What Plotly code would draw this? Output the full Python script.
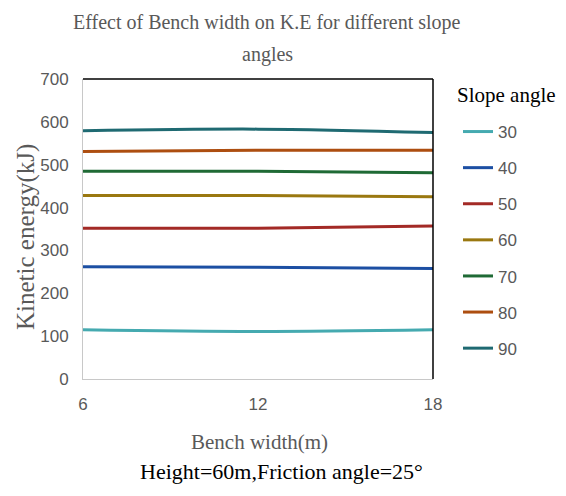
import plotly.graph_objects as go

bench_width = [6, 12, 18]
slope_angles = ["30", "40", "50", "60", "70", "80", "90"]
ke_30 = [115, 111, 115]
ke_40 = [262, 261, 258]
ke_50 = [352, 352, 357]
ke_60 = [428, 428, 425]
ke_70 = [485, 485, 481]
ke_80 = [531, 534, 534]
ke_90 = [579, 583, 575]
series = [ke_30, ke_40, ke_50, ke_60, ke_70, ke_80, ke_90]
colors = ["#45aab0", "#1c4fa3", "#a32a26", "#9a7810", "#1f6a35", "#ad4e10", "#1f6a72"]

y_ticks = [0, 100, 200, 300, 400, 500, 600, 700]
x_ticks = [6, 12, 18]

serif = "Liberation Serif, Times New Roman, serif"
sans = "Liberation Sans, Arial, sans-serif"

W, H = 566, 496
L, R, T, B = 83, 433, 79, 379  # plot area pixels


def px(x):
    return (x - L) / (R - L)


def py(y):
    return (B - y) / (B - T)


fig = go.Figure()
for name, vals, c in zip(slope_angles, series, colors):
    fig.add_trace(go.Scatter(
        x=bench_width, y=vals, name=name, mode="lines",
        line=dict(color=c, width=3, shape="spline"),
        legendgroup=name,
    ))

fig.update_layout(
    width=W, height=H,
    margin=dict(l=L, r=W - R, t=T, b=H - B),
    paper_bgcolor="white", plot_bgcolor="white",
    xaxis=dict(
        range=[6, 18], tickvals=x_ticks, showgrid=False, zeroline=False,
        showline=True, linecolor="#c8c8c8", linewidth=1,
        tickfont=dict(family=sans, size=17, color="#595959"),
        ticks="", ticklabelstandoff=10,
    ),
    yaxis=dict(
        range=[0, 700], tickvals=y_ticks, showgrid=False, zeroline=False,
        showline=True, linecolor="#c8c8c8", linewidth=1,
        tickfont=dict(family=sans, size=17, color="#595959"),
        ticks="", ticklabelstandoff=10,
    ),
    legend=dict(
        font=dict(family=sans, size=17, color="#595959"),
        x=px(458), xanchor="left", y=py(114), yanchor="top",
        tracegroupgap=11, bgcolor="rgba(0,0,0,0)",
    ),
    showlegend=True,
)

fig.add_shape(type="line", xref="paper", yref="paper", x0=0, x1=1, y0=1, y1=1,
              line=dict(color="black", width=1.5))
fig.add_shape(type="line", xref="paper", yref="paper", x0=1, x1=1, y0=0, y1=1,
              line=dict(color="black", width=1.5))


def ann(text, x, y, size, color, angle=0):
    fig.add_annotation(
        text=text, xref="paper", yref="paper", x=px(x), y=py(y),
        xanchor="center", yanchor="middle", showarrow=False, textangle=angle,
        font=dict(family=serif, size=size, color=color),
    )


ann("Effect of Bench width on K.E for different slope", 267, 22, 20, "#595959")
ann("angles", 267, 54, 20, "#595959")
ann("Kinetic energy(kJ)", 26, 237, 25, "#595959", angle=-90)
ann("Bench width(m)", 259, 442, 21, "#595959")
ann("Slope angle", 506, 95, 21, "black")
ann("Height=60m,Friction angle=25°", 281, 471, 22, "black")

fig.write_html("out.html")
